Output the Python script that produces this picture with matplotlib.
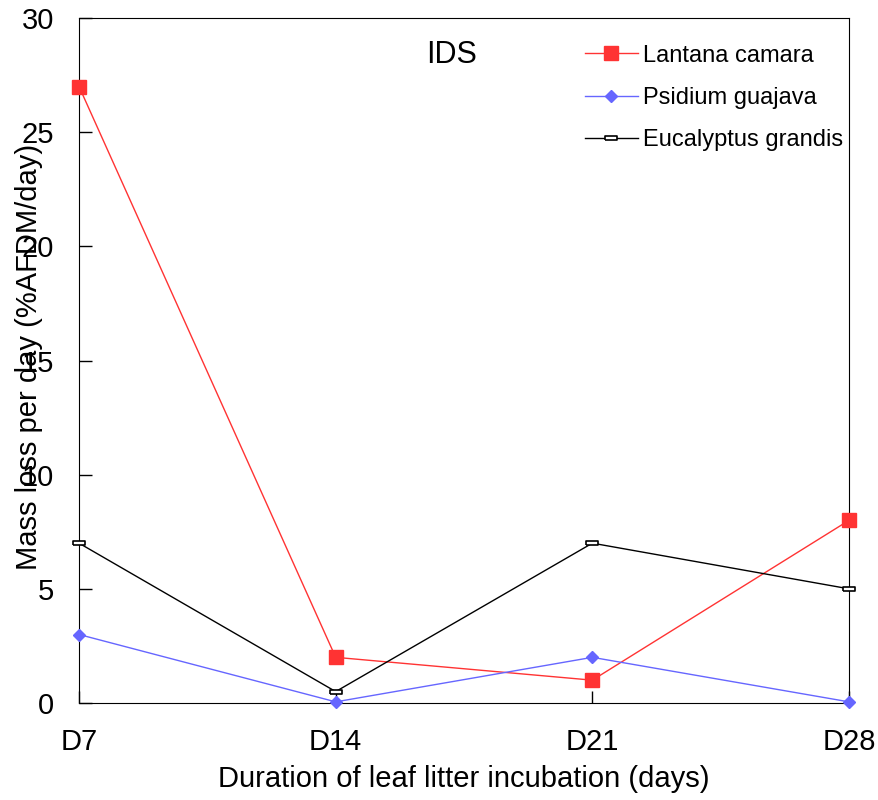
import matplotlib
matplotlib.use("Agg")
import matplotlib.pyplot as plt
import numpy as np

plt.rcParams['font.family'] = ['Liberation Sans', 'DejaVu Sans']

days = ["D7", "D14", "D21", "D28"]
lantana = [27, 2, 1, 8]
psidium = [3, 0.05, 2, 0.05]
eucalyptus = [7, 0.5, 7, 5]

x = np.arange(len(days))

fig = plt.figure(figsize=(8.79, 8.0), dpi=100)
ax = fig.add_axes([0.0899, 0.12125, 0.876, 0.85625])

# small flat box used as the Eucalyptus marker
rect = [(-1, -0.35), (1, -0.35), (1, 0.35), (-1, 0.35), (-1, -0.35)]

ax.plot(x, lantana, color='#ff3333', lw=1, marker='s', ms=9.5,
        label='Lantana camara', clip_on=False, zorder=3)
ax.plot(x, psidium, color='#6666ff', lw=1, marker='D', ms=6.5,
        label='Psidium guajava', clip_on=False, zorder=3)
ax.plot(x, eucalyptus, color='black', lw=1, marker=rect, ms=8,
        mfc='white', mec='black', mew=1.2,
        label='Eucalyptus grandis', clip_on=False, zorder=3)

ax.set_xlim(0, 3)
ax.set_ylim(0, 30)
ax.set_xticks(x)
ax.set_xticklabels(days)
ax.set_yticks(range(0, 31, 5))
ax.tick_params(direction='in', length=9, width=1, labelsize=21)
ax.tick_params(axis='x', pad=18)
ax.tick_params(axis='y', pad=18)

ax.set_xlabel('Duration of leaf litter incubation (days)', fontsize=21)
ax.xaxis.set_label_coords(0.5, -0.09)
ax.set_ylabel('Mass loss per day (%AFDM/day)', fontsize=21)
ax.yaxis.set_label_coords(-0.047, 0.505)

ax.text(0.484, 0.934, 'IDS', transform=ax.transAxes, fontsize=22,
        ha='center', va='baseline')

ax.legend(loc='upper right', bbox_to_anchor=(1.004, 0.975), frameon=False,
          fontsize=17, handlelength=2.25, labelspacing=0.86, handletextpad=0.2,
          borderaxespad=0)

fig.savefig('out.png', dpi=100)
